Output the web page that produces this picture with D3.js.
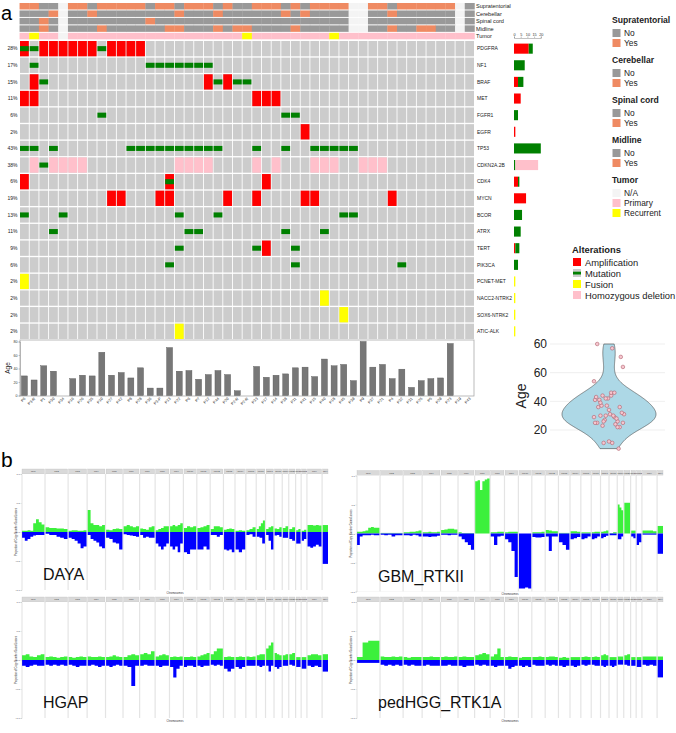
<!DOCTYPE html>
<html><head><meta charset="utf-8">
<script src="https://cdn.jsdelivr.net/npm/d3@7"></script>
<style>
body{margin:0;background:#fff}
svg{display:block}
text{font-family:"Liberation Sans",Arial,sans-serif}
</style>
</head><body>
<svg id="chart" width="676" height="733"></svg>
<script>
// ===================== DATA =====================
const samples = ["P6","P3-R","P1","P30","P34","P16","P26","P35","P10","P27","P42","P8","P28","P36","P3-P","P13","P22","P6","P7","P12","P44","P20","P2-R","P2-R","P33","P17","P14","P38","P11","P41","P15","P40","P18","P45","P39","P9","P37","P21","P4","P32","P31","P25","P5","P29","P23","P19","P43"];
const ages = [29,23,44,36,null,25,30,29,64,30,34,26,41,11,11,71,36,37,24,31,37,31,7,null,43,27,30,32,41,42,28,54,44,46,22,80,42,46,25,39,12,22,25,26,77,null,null];
const genes = ["PDGFRA","NF1","BRAF","MET","FGFR1","EGFR","TP53","CDKN2A.2B","CDK4","MYCN","BCOR","ATRX","TERT","PIK3CA","PCNET-MET","NACC2-NTRK2","SOX6-NTRK2","ATIC-ALK"];
const genePct = ["28%","17%","15%","11%","6%","2%","43%","38%","6%","19%","13%","11%","9%","6%","2%","2%","2%","2%"];
// annotation tracks, one letter per sample: Y yes, N no, - N/A ; P primary, R recurrent
const supratentorial = "YYNN-YYNYYYYYNYYNYYYNYNN" + "YYYNYNYYYY--YYNYYYYYY-N";
const cerebellar     = "NNNY-NNYNNNNNNNNYNNNYNNN" + "NNNYNYNNNN--NNYNNNNNN-N";
const spinalCord     = "NNYN-NNNNNNNNYNNNNNNNNNN" + "NNNNNNNNNN--NNNNNNNNN-N";
const midline        = "NNYN-NNNYNNNNNNYYNNNYNYY" + "NNNNYNNNNN--NNYNNYYNN-N";
const tumor          = "PRPP-PPPPPPPPPPPPPPPPPPR" + "PPPPPPPPRPPPPPPPPPPPPPP";
const trackNames = ["Supratentorial","Cerebellar","Spinal cord","Midline","Tumor"];
// alterations: gene -> sample column indices
const amplification = [
  ["PDGFRA",[0,2,3,4,5,6,7,9,10,11,12]],
  ["BRAF",[1,19,21]],
  ["MET",[0,1,24,25,26]],
  ["EGFR",[29]],
  ["CDK4",[0,15,25]],
  ["MYCN",[9,10,14,15,21,24,29,30,38]],
  ["TERT",[25]]
];
const mutation = [
  ["PDGFRA",[0,1,8]],
  ["NF1",[1,13,14,15,16,17,18,19]],
  ["BRAF",[2,20,22,23]],
  ["FGFR1",[8,27,28]],
  ["TP53",[0,1,3,11,12,13,14,15,16,17,18,19,20,24,27,30,31,32,33,34]],
  ["CDKN2A.2B",[2]],
  ["CDK4",[15]],
  ["BCOR",[0,4,16,20,33,34]],
  ["ATRX",[3,17,18,27,31]],
  ["TERT",[16,24,28]],
  ["PIK3CA",[15,28,39]]
];
const fusion = [
  ["PCNET-MET",[0]],
  ["NACC2-NTRK2",[31]],
  ["SOX6-NTRK2",[33]],
  ["ATIC-ALK",[16]]
];
const homozygousDeletion = [
  ["CDKN2A.2B",[1,3,4,5,6,16,17,18,19,24,26,30,31,32,35,36,37]]
];
const barTicks = [0,5,10,15,20];
const ageTicks = [0,20,40,60,80];
const violinTicks = [20,40,60,80];
const violinTickLabels = ["20","40","60","60"];
const legendTracks = ["Supratentorial","Cerebellar","Spinal cord","Midline"];
const legendTrackItems = ["No","Yes"];
const tumorItems = ["N/A","Primary","Recurrent"];
const alterationItems = ["Amplification","Mutation","Fusion","Homozygous deletion"];

// CNV panels
const chromosomes = ["chr1","chr2","chr3","chr4","chr5","chr6","chr7","chr8","chr9","chr10","chr11","chr12","chr13","chr14","chr15","chr16","chr17","chr18","chr19","chr20","chr21","chr22","chrX","chrY"];
const chromLengths = [249,243,198,191,181,171,159,146,141,136,135,134,115,107,102,90,81,78,59,63,48,51,155,59];
const cnvTicks = [-1,-0.5,0,0.5,1];
const dayaGain = [[0.02,0.02,0.03,0.02,0.15,0.22,0.17,0.13],[0.08,0.07,0.07,0.06,0.06,0.05],[0.02,0.03,0.03,0.02,0.02,0.03],[0.38,0.15,0.12,0.12,0.1,0.12],[0.04,0.03,0.05,0.06,0.05],[0.1,0.12,0.1,0.08,0.1],[0.06,0.05,0.04,0.08,0.1],[0.03,0.05,0.07,0.1,0.1],[0.1,0.12,0.1,0.12,0.15],[0.07,0.1,0.08,0.1],[0.07,0.08,0.1,0.12],[0.05,0.1,0.1,0.08],[0.04,0.05,0.06,0.05],[0.02,0.03,0.02],[0.03,0.05,0.08],[0.05,0.1,0.15,0.2],[0.05,0.08,0.1],[0.06,0.05,0.08],[0.07,0.1],[0.05,0.08],[0.03,0.05],[0.02,0.04],[0.12,0.12,0.11,0.12,0.11],[0.12,0.12]];
const dayaLoss = [[-0.1,-0.15,-0.12,-0.08,-0.06,-0.05,-0.05,-0.05],[-0.03,-0.05,-0.05,-0.08,-0.1,-0.12],[-0.1,-0.12,-0.15,-0.2,-0.28,-0.25],[-0.05,-0.12,-0.15,-0.18,-0.25,-0.28],[-0.1,-0.12,-0.18,-0.2,-0.3],[-0.04,-0.05,-0.06,-0.07,-0.08],[-0.05,-0.1,-0.08,-0.1,-0.1],[-0.2,-0.25,-0.3,-0.25,-0.2],[-0.25,-0.3,-0.25,-0.35,-0.2],[-0.35,-0.38,-0.3,-0.3],[-0.3,-0.3,-0.25,-0.3],[-0.05,-0.05,-0.08,-0.05],[-0.3,-0.32,-0.3,-0.35],[-0.3,-0.35,-0.3],[-0.05,-0.04,-0.08],[-0.08,-0.1,-0.2],[-0.05,-0.15,-0.3],[-0.06,-0.05,-0.08],[-0.1,-0.1],[-0.12,-0.15],[-0.2,-0.2],[-0.15,-0.12],[-0.25,-0.27,-0.25,-0.22,-0.25],[-0.55,-0.55]];
const gbmGain = [[0.03,0.03,0.04,0.05,0.1,0.11,0.1,0.1],[0.01,0.01,0.01,0.01,0.01,0.01],[0.02,0.02,0.03,0.03,0.04,0.05],[0.02,0.02,0.03,0.02,0.02,0.03],[0.06,0.07,0.08,0.08,0.07],[0.02,0.01,0.01,0.01,0.01],[0.9,0.92,0.75,0.9,0.93,0.95],[0.02,0.02,0.03,0.03],[0.02,0.03,0.03,0.03],[0,0,0,0],[0.02,0.02,0.02,0.03],[0.06,0.05,0.04,0.04],[0.01,0.01,0.01],[0.04,0.04,0.03],[0.02,0.02,0.02],[0.02,0.03,0.03],[0.03,0.04,0.05],[0.01,0.02],[0.5,0.45,0.4],[0.53,0.53],[0.05,0.05],[0,0],[0.05,0.05,0.05,0.04],[0.13,0.13]];
const gbmLoss = [[-0.2,-0.05,-0.03,-0.03,-0.03,-0.02,-0.03,-0.03],[-0.02,-0.03,-0.02,-0.05,-0.03,-0.03],[-0.03,-0.03,-0.04,-0.02,-0.03,-0.05],[-0.05,-0.05,-0.06,-0.05,-0.05,-0.04],[-0.02,-0.02,-0.03,-0.02,-0.02],[-0.05,-0.1,-0.15,-0.2,-0.28],[0,0,0,0,0,0],[-0.05,-0.2,-0.05,-0.04],[-0.1,-0.15,-0.3,-0.75],[-0.95,-0.95,-0.93,-0.95],[-0.06,-0.07,-0.07,-0.06],[-0.05,-0.3,-0.05,-0.05],[-0.15,-0.2,-0.28],[-0.1,-0.08,-0.06],[-0.1,-0.08,-0.05],[-0.1,-0.08,-0.05],[-0.08,-0.06,-0.04],[-0.03,-0.03],[-0.1,-0.1,-0.05],[0,0],[-0.05,-0.08],[-0.2,-0.15],[-0.02,-0.02,-0.02,-0.02],[-0.35,-0.35]];
const hgapGain = [[0.08,0.1,0.06,0.05,0.08,0.1],[0.05,0.06,0.05,0.04,0.05,0.06],[0.05,0.04,0.05,0.06,0.05],[0.06,0.05,0.05,0.06,0.05],[0.05,0.06,0.08,0.06,0.05],[0.05,0.08,0.1,0.08],[0.1,0.12,0.1,0.15],[0.06,0.08,0.1,0.08],[0.05,0.06,0.05,0.06],[0.05,0.05,0.06,0.05],[0.06,0.08,0.1,0.12],[0.1,0.15,0.2,0.2],[0.05,0.06,0.05],[0.05,0.06,0.05],[0.06,0.05,0.06],[0.08,0.1,0.1],[0.2,0.25,0.3],[0.12,0.1,0.08],[0.08,0.1],[0.1,0.12],[0.05,0.05],[0.05,0.05],[0.08,0.1,0.1,0.08],[0.1,0.1]];
const hgapLoss = [[-0.1,-0.12,-0.1,-0.08,-0.1,-0.1],[-0.08,-0.1,-0.08,-0.1,-0.08,-0.1],[-0.08,-0.1,-0.12,-0.1,-0.1],[-0.1,-0.08,-0.1,-0.12,-0.1],[-0.1,-0.12,-0.1,-0.08,-0.1],[-0.1,-0.12,-0.45,-0.1],[-0.1,-0.08,-0.1,-0.1],[-0.1,-0.12,-0.1,-0.1],[-0.12,-0.3,-0.15,-0.1],[-0.12,-0.1,-0.1,-0.12],[-0.1,-0.12,-0.1,-0.1],[-0.08,-0.1,-0.08,-0.1],[-0.15,-0.2,-0.15],[-0.12,-0.15,-0.12],[-0.1,-0.1,-0.1],[-0.1,-0.12,-0.1],[-0.1,-0.2,-0.1],[-0.12,-0.15,-0.12],[-0.1,-0.1],[-0.08,-0.1],[-0.12,-0.12],[-0.15,-0.15],[-0.1,-0.12,-0.1,-0.12],[-0.2,-0.2]];
const pedGain = [[0.05,0.3,0.33,0.33],[0.06,0.05,0.05,0.06,0.05,0.06],[0.05,0.04,0.05,0.05,0.05],[0.05,0.05,0.06,0.05,0.05],[0.05,0.06,0.05,0.05,0.06],[0.05,0.06,0.05,0.05],[0.08,0.1,0.12,0.1],[0.06,0.1,0.2,0.05],[0.05,0.06,0.05,0.05],[0.04,0.05,0.05,0.05],[0.05,0.05,0.06,0.05],[0.05,0.06,0.06,0.05],[0.04,0.05,0.04],[0.05,0.05,0.05],[0.05,0.06,0.05],[0.05,0.06,0.05],[0.08,0.1,0.08],[0.05,0.05,0.05],[0.06,0.06],[0.08,0.1],[0.05,0.05],[0.05,0.05],[0.06,0.06,0.06,0.06],[0.06,0.06]];
const pedLoss = [[-0.05,-0.05,-0.05,-0.05],[-0.08,-0.1,-0.08,-0.1,-0.08,-0.1],[-0.08,-0.1,-0.08,-0.1,-0.1],[-0.1,-0.08,-0.1,-0.1,-0.1],[-0.1,-0.1,-0.08,-0.1,-0.1],[-0.1,-0.12,-0.1,-0.1],[-0.08,-0.1,-0.08,-0.1],[-0.1,-0.12,-0.1,-0.1],[-0.1,-0.15,-0.12,-0.1],[-0.1,-0.12,-0.1,-0.12],[-0.08,-0.1,-0.1,-0.1],[-0.08,-0.1,-0.08,-0.1],[-0.1,-0.12,-0.1],[-0.1,-0.12,-0.1],[-0.08,-0.1,-0.08],[-0.08,-0.1,-0.1],[-0.1,-0.12,-0.1],[-0.1,-0.12,-0.1],[-0.08,-0.08],[-0.08,-0.1],[-0.1,-0.1],[-0.12,-0.12],[-0.08,-0.1,-0.08,-0.1],[-0.3,-0.3]];
const cnvPanels = [
  {label:"DAYA", gain:dayaGain, loss:dayaLoss},
  {label:"GBM_RTKII", gain:gbmGain, loss:gbmLoss},
  {label:"HGAP", gain:hgapGain, loss:hgapLoss},
  {label:"pedHGG_RTK1A", gain:pedGain, loss:pedLoss}
];

// ===================== COLORS =====================
const C = {grey:"#CCCCCC", no:"#999999", yes:"#EF8A62", na:"#F4F4F4", primary:"#FFC0CB", recurrent:"#FFFF00",
  amp:"#FF0000", mut:"#008000", fus:"#FFFF00", del:"#FFC0CB", gain:"#3CF03C", loss:"#0000FF"};

const svg = d3.select("#chart");

// ===================== PANEL a: ONCOPRINT =====================
const nS = samples.length;
const x = d3.scaleBand().domain(d3.range(nS)).range([20, 474]).paddingInner(0.09);
const y = d3.scaleBand().domain(genes).range([41, 339]).paddingInner(0.08);
const yT = d3.scaleBand().domain(trackNames).range([3, 39.3]).paddingInner(0.13);

svg.append("text").attr("x",1).attr("y",20).attr("font-size",20).text("a");

// annotation tracks
const tracks = [supratentorial, cerebellar, spinalCord, midline, tumor];
const trackColor = c => ({Y:C.yes, N:C.no, "-":C.na, P:C.primary, R:C.recurrent})[c];
const colStep = x.step();
tracks.forEach((t, ti) => {
  const g = svg.append("g");
  g.selectAll("rect").data(t.split("")).join("rect")
    .attr("x", (d,i) => x(i) - colStep*x.paddingInner()/2)
    .attr("width", colStep + 0.3)
    .attr("y", yT(trackNames[ti])).attr("height", yT.bandwidth())
    .attr("fill", d => trackColor(d));
  svg.append("text").attr("x", 476).attr("y", yT(trackNames[ti]) + yT.bandwidth()/2 + 2)
    .attr("font-size", 5.6).attr("fill","#222").text(trackNames[ti]);
});

// background grid
const gridG = svg.append("g");
genes.forEach(gn => {
  gridG.selectAll(null).data(d3.range(nS)).join("rect")
    .attr("x", i => x(i)).attr("width", x.bandwidth())
    .attr("y", y(gn)).attr("height", y.bandwidth()).attr("fill", C.grey);
});
function drawCells(list, color, frac) {
  list.forEach(([gn, cols]) => {
    gridG.selectAll(null).data(cols).join("rect")
      .attr("x", i => x(i)).attr("width", x.bandwidth())
      .attr("y", y(gn) + y.bandwidth()*(1-frac)/2).attr("height", y.bandwidth()*frac)
      .attr("fill", color);
  });
}
drawCells(homozygousDeletion, C.del, 1);
drawCells(fusion, C.fus, 1);
drawCells(amplification, C.amp, 1);
drawCells(mutation, C.mut, 0.33);

// percentages and gene names
genes.forEach((gn, gi) => {
  svg.append("text").attr("x", 17.5).attr("y", y(gn) + y.bandwidth()/2 + 1.8)
    .attr("text-anchor","end").attr("font-size",5).attr("fill","#222").text(genePct[gi]);
  svg.append("text").attr("x", 477).attr("y", y(gn) + y.bandwidth()/2 + 1.8)
    .attr("font-size",5).attr("fill","#222").text(gn);
});

// right-side stacked counts
const countOf = (list, gn) => { const e = list.find(d => d[0] === gn); return e ? e[1].length : 0; };
const xb = d3.scaleLinear().domain([0,20]).range([514, 540.8]);
const barG = svg.append("g");
genes.forEach(gn => {
  const parts = [[countOf(amplification,gn),C.amp],[countOf(mutation,gn),C.mut],[countOf(homozygousDeletion,gn),C.del],[countOf(fusion,gn),C.fus]];
  let acc = 0;
  const bh = y.bandwidth()*0.66;
  parts.forEach(([n,col]) => {
    if (!n) return;
    barG.append("rect").attr("x", xb(acc)).attr("width", xb(acc+n)-xb(acc))
      .attr("y", y(gn) + (y.bandwidth()-bh)/2).attr("height", bh).attr("fill", col);
    acc += n;
  });
});
const barAxis = svg.append("g").attr("transform","translate(0,38)")
  .call(d3.axisTop(xb).tickValues(barTicks).tickSize(1.5).tickPadding(0.8));
barAxis.selectAll("text").attr("font-size",3.8).attr("fill","#333");
barAxis.selectAll("line,path").attr("stroke","#666").attr("stroke-width",0.4);

// age bar chart
const ya = d3.scaleLinear().domain([0,80]).range([395.5, 341.5]);
svg.append("rect").attr("x",20).attr("y",340).attr("width",454).attr("height",56)
  .attr("fill","none").attr("stroke","#aaa").attr("stroke-width",0.8);
const bwAge = x.bandwidth()*0.68;
svg.append("g").selectAll("rect").data(ages.map((a,i)=>({a,i})).filter(d=>d.a!=null)).join("rect")
  .attr("x", d => x(d.i) + (x.bandwidth()-bwAge)/2).attr("width", bwAge)
  .attr("y", d => ya(d.a)).attr("height", d => ya(0)-ya(d.a))
  .attr("fill","#777").attr("stroke","#555").attr("stroke-width",0.4);
const ageAxis = svg.append("g").attr("transform","translate(20,0)")
  .call(d3.axisLeft(ya).tickValues(ageTicks).tickSize(1.5).tickPadding(1));
ageAxis.selectAll("text").attr("font-size",3.6).attr("fill","#333");
ageAxis.selectAll("line,path").attr("stroke","#777").attr("stroke-width",0.4);
svg.append("text").attr("transform","translate(9.5,368) rotate(-90)").attr("text-anchor","middle")
  .attr("font-size",6.5).attr("fill","#222").text("Age");
svg.append("g").selectAll("text").data(samples).join("text")
  .attr("transform",(d,i)=>`translate(${x(i)+x.bandwidth()/2+1.5},399) rotate(-45)`)
  .attr("text-anchor","end").attr("font-size",3.9).attr("fill","#333").text(d=>d);

// ===================== LEGENDS =====================
const lg = svg.append("g");
legendTracks.forEach((t, k) => {
  const y0 = 23 + 40*k;
  lg.append("text").attr("x",612).attr("y",y0).attr("font-size",8.6).attr("font-weight","bold").attr("fill","#222").text(t);
  legendTrackItems.forEach((it, j) => {
    lg.append("rect").attr("x",612.5).attr("y",y0+6+10*j).attr("width",8).attr("height",8).attr("fill", j===0?C.no:C.yes);
    lg.append("text").attr("x",624).attr("y",y0+13+10*j).attr("font-size",8.4).attr("fill","#222").text(it);
  });
});
lg.append("text").attr("x",612).attr("y",183).attr("font-size",8.6).attr("font-weight","bold").attr("fill","#222").text("Tumor");
tumorItems.forEach((it,j) => {
  lg.append("rect").attr("x",612.5).attr("y",189+10*j).attr("width",8).attr("height",8).attr("fill",[C.na,C.primary,C.recurrent][j]);
  lg.append("text").attr("x",624).attr("y",196+10*j).attr("font-size",8.4).attr("fill","#222").text(it);
});
lg.append("text").attr("x",572).attr("y",253).attr("font-size",9.4).attr("font-weight","bold").attr("fill","#222").text("Alterations");
alterationItems.forEach((it,j) => {
  const yy = 258 + 11*j;
  if (j===1) {
    lg.append("rect").attr("x",573).attr("y",yy).attr("width",8).attr("height",8).attr("fill","#ccc");
    lg.append("rect").attr("x",573).attr("y",yy+2.7).attr("width",8).attr("height",2.8).attr("fill",C.mut);
  } else {
    lg.append("rect").attr("x",573).attr("y",yy).attr("width",8).attr("height",8).attr("fill",[C.amp,null,C.fus,C.del][j]);
  }
  lg.append("text").attr("x",585).attr("y",yy+7.5).attr("font-size",9.4).attr("fill","#222").text(it);
});

// ===================== VIOLIN =====================
const yv = d3.scaleLinear().domain([20,80]).range([430,344]);
const vg = svg.append("g");
violinTicks.forEach((t,k) => {
  vg.append("line").attr("x1",550).attr("x2",665).attr("y1",yv(t)).attr("y2",yv(t)).attr("stroke","#ebebeb").attr("stroke-width",0.8);
  vg.append("text").attr("x",547).attr("y",yv(t)+4.3).attr("text-anchor","end").attr("font-size",12).attr("fill","#222").text(violinTickLabels[k]);
});
vg.append("text").attr("transform","translate(526,396) rotate(-90)").attr("text-anchor","middle").attr("font-size",14).attr("fill","#222").text("Age");
const vAges = ages.filter(a => a != null);
const bw = 7.5;
const kde = v => d3.mean(vAges, a => Math.exp(-0.5*((v-a)/bw)**2));
const [amin, amax] = d3.extent(vAges);
const dens = d3.range(amin, amax + 0.001, 0.25).map(a => [a, kde(a)]);
const cx = 609;
const wv = d3.scaleLinear().domain([0, d3.max(dens, d => d[1])]).range([0, 47]);
vg.append("path").datum(dens)
  .attr("d", d3.area().y(d => yv(d[0])).x0(d => cx - wv(d[1])).x1(d => cx + wv(d[1])).curve(d3.curveBasis))
  .attr("fill","#ADD8E6").attr("stroke","#444").attr("stroke-width",0.6);
vg.selectAll("circle").data(vAges).join("circle")
  .attr("cx",(a,i) => cx + (((i*37) % 29)/28 - 0.5) * 30)
  .attr("cy", a => yv(a)).attr("r",1.8)
  .attr("fill","#F6C6CF").attr("stroke","#B0606C").attr("stroke-width",0.6);

// ===================== PANEL b: CNV =====================
svg.append("text").attr("x",1).attr("y",467).attr("font-size",21).text("b");
const cnvPos = [[22,469],[357,470.5],[22,597],[357,597]];
cnvPanels.forEach((p, pi) => {
  const [x0, y0] = cnvPos[pi];
  const W = 306, stripH = 5, H = 116;
  const g = svg.append("g");
  const gap = 1.2;
  const total = d3.sum(chromLengths);
  const avail = W - gap*(chromosomes.length-1);
  const starts = []; let acc = x0;
  chromLengths.forEach(L => { starts.push(acc); acc += L/total*avail + gap; });
  const yc = d3.scaleLinear().domain([-1,1]).range([y0+stripH+H, y0+stripH]);
  g.append("rect").attr("x",x0).attr("y",y0+stripH).attr("width",W).attr("height",H).attr("fill","#E4E4E4");
  chromosomes.forEach((ch, ci) => {
    const xs = starts[ci], w = chromLengths[ci]/total*avail;
    g.append("rect").attr("x",xs).attr("y",y0).attr("width",w).attr("height",stripH)
      .attr("fill","#D9D9D9").attr("stroke","#BBB").attr("stroke-width",0.3);
    g.append("text").attr("x",xs+w/2).attr("y",y0+3.4).attr("text-anchor","middle").attr("font-size",2.4).attr("fill","#444").text(ch);
    g.append("rect").attr("x",xs).attr("y",y0+stripH).attr("width",w).attr("height",H)
      .attr("fill","#fff");
    [p.gain[ci], p.loss[ci]].forEach((vals, k) => {
      const n = vals.length;
      const pts = vals.map((v,i) => [xs + w*i/n, v]).concat([[xs + w, vals[n-1]]]);
      g.append("path").datum(pts)
        .attr("d", d3.area().x(d=>d[0]).y0(yc(0)).y1(d=>yc(d[1])).curve(d3.curveStepAfter))
        .attr("fill", k===0 ? C.gain : C.loss);
    });
  });
  const ax = g.append("g").attr("transform",`translate(${x0-0.5},0)`)
    .call(d3.axisLeft(yc).tickValues(cnvTicks).tickSize(1).tickPadding(0.6).tickFormat(d3.format(".1f")));
  ax.selectAll("text").attr("font-size",2.4).attr("fill","#444");
  ax.selectAll("line,path").attr("stroke","#999").attr("stroke-width",0.3);
  g.append("text").attr("transform",`translate(${x0-5},${y0+stripH+H/2}) rotate(-90)`).attr("text-anchor","middle")
    .attr("font-size",2.6).attr("fill","#333").text("Proportion of Copy Number Gains/Losses");
  g.append("text").attr("x",x0+W/2).attr("y",y0+stripH+H+3.5).attr("text-anchor","middle")
    .attr("font-size",2.6).attr("fill","#333").text("Chromosomes");
  g.append("text").attr("x",x0+21).attr("y",y0+stripH+H-10).attr("font-size",16).attr("fill","#111")
    .attr("font-family","Lato, 'Open Sans', sans-serif").text(p.label);
});
</script>
</body></html>
